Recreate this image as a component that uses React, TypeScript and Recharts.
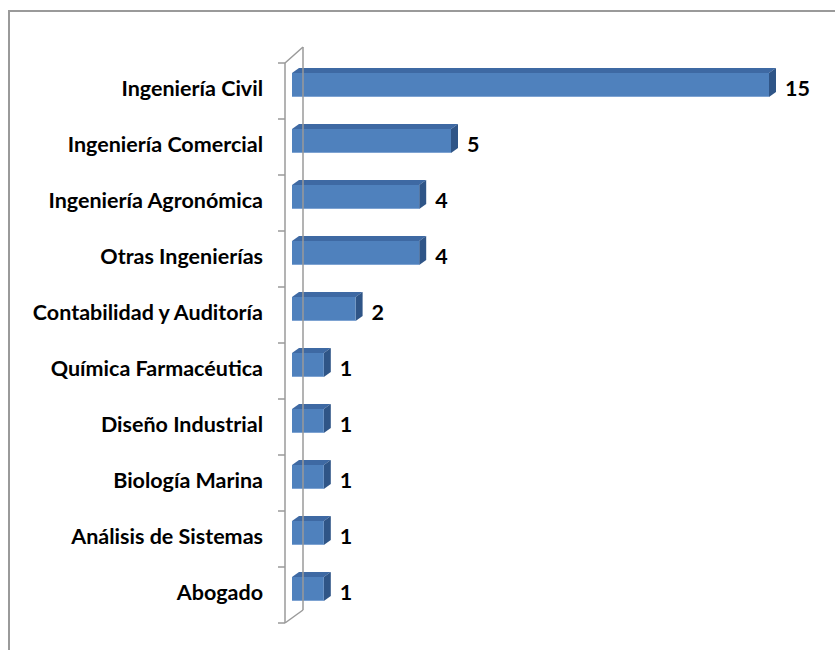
import { BarChart, Bar, XAxis, YAxis, LabelList } from 'recharts';

const CATEGORIES = [
  'Ingeniería Civil',
  'Ingeniería Comercial',
  'Ingeniería Agronómica',
  'Otras Ingenierías',
  'Contabilidad y Auditoría',
  'Química Farmacéutica',
  'Diseño Industrial',
  'Biología Marina',
  'Análisis de Sistemas',
  'Abogado',
];
const VALUES = [15, 5, 4, 4, 2, 1, 1, 1, 1, 1];

const data = CATEGORIES.map((name, i) => ({ name, value: VALUES[i] }));

const W = 835;
const H = 650;
const MARGIN = { top: 63, right: 66, bottom: 27, left: 0 };
const PLOT_H = H - MARGIN.top - MARGIN.bottom;
const BAND = PLOT_H / CATEGORIES.length;

const DEPTH_X = 7;
const DEPTH_Y = 5;
const LIFT = 6;
const FONT = 'Lato, "Open Sans", sans-serif';
const FONT_SIZE = 21.5;
const WALL = '#9a9a9a';

const Bar3D = (props: any) => {
  const { x, y, width, height } = props;
  const top = y - LIFT;
  const r = x + width;
  return (
    <g>
      <polygon
        points={`${x},${top} ${x + DEPTH_X},${top - DEPTH_Y} ${r + DEPTH_X},${top - DEPTH_Y} ${r},${top}`}
        fill="#3e69a3"
      />
      <polygon
        points={`${r},${top} ${r + DEPTH_X},${top - DEPTH_Y} ${r + DEPTH_X},${top + height - DEPTH_Y} ${r},${top + height}`}
        fill="#2f5587"
      />
      <rect x={x} y={top} width={width} height={height} fill="#4f81bd" />
      <line x1={x} y1={top + height - 0.5} x2={r} y2={top + height - 0.5} stroke="#7ea3d2" strokeWidth={1} />
    </g>
  );
};

const CategoryTick = (props: any) => {
  const { x, y, payload, index } = props;
  const front = x - 7;
  const back = x + 11;
  const bandTop = y - BAND / 2;
  return (
    <g>
      <text
        x={x - 29}
        y={y - 3}
        textAnchor="end"
        dominantBaseline="central"
        fontFamily={FONT}
        fontWeight={700}
        fontSize={FONT_SIZE}
        fill="#000"
      >
        {payload.value}
      </text>
      <line x1={front - 7} y1={bandTop} x2={front} y2={bandTop} stroke={WALL} strokeWidth={1.5} />
      <line x1={front} y1={bandTop} x2={front} y2={bandTop + BAND} stroke={WALL} strokeWidth={1.5} />
      {index === 0 && (
        <>
          <line x1={front} y1={bandTop} x2={back} y2={bandTop - 16} stroke={WALL} strokeWidth={1.5} />
          <line x1={back} y1={bandTop - 16} x2={back} y2={bandTop + PLOT_H - 13} stroke={WALL} strokeWidth={1.5} />
          <line
            x1={front}
            y1={bandTop + PLOT_H}
            x2={back}
            y2={bandTop + PLOT_H - 13}
            stroke={WALL}
            strokeWidth={1.5}
          />
        </>
      )}
      {index === CATEGORIES.length - 1 && (
        <line
          x1={front - 7}
          y1={bandTop + BAND}
          x2={front}
          y2={bandTop + BAND}
          stroke={WALL}
          strokeWidth={1.5}
        />
      )}
    </g>
  );
};

const ValueLabel = (props: any) => {
  const { x, y, width, height, value } = props;
  return (
    <text
      x={x + width + DEPTH_X + 9}
      y={y + height / 2 - 3}
      dominantBaseline="central"
      fontFamily={FONT}
      fontWeight={700}
      fontSize={FONT_SIZE}
      fill="#000"
    >
      {value}
    </text>
  );
};

export default function App() {
  return (
    <div style={{ position: 'absolute', left: 0, top: 0, width: W, height: H, overflow: 'hidden', background: '#fff' }}>
      <div
        style={{
          position: 'absolute',
          left: 8,
          top: 10,
          width: W + 20,
          height: H + 20,
          border: '2px solid #9a9a9a',
          boxSizing: 'border-box',
        }}
      />
      <div style={{ position: 'absolute', left: 0, top: 0 }}>
        <BarChart width={W} height={H} data={data} layout="vertical" margin={MARGIN}>
          <XAxis type="number" domain={[0, 15]} hide />
          <YAxis
            type="category"
            dataKey="name"
            width={292}
            axisLine={false}
            tickLine={false}
            tickSize={0}
            tickMargin={0}
            interval={0}
            tick={<CategoryTick />}
          />
          <Bar dataKey="value" barSize={24} shape={<Bar3D />} isAnimationActive={false}>
            <LabelList dataKey="value" content={<ValueLabel />} />
          </Bar>
        </BarChart>
      </div>
    </div>
  );
}
